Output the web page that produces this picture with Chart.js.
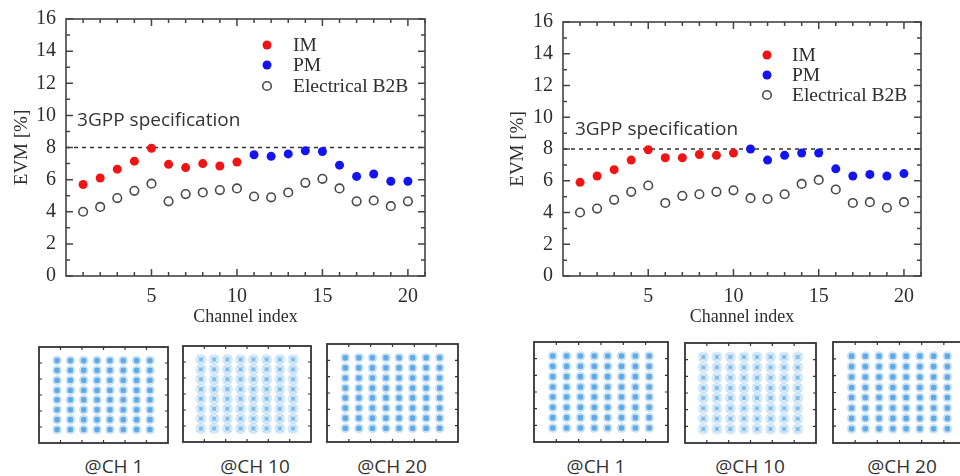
<!DOCTYPE html>
<html>
<head>
<meta charset="utf-8">
<title>EVM vs channel index</title>
<script src="https://cdn.jsdelivr.net/npm/chart.js@4.4.1/dist/chart.umd.min.js"></script>
<style>
  html, body { margin: 0; padding: 0; background: #fff; }
  body { width: 960px; height: 476px; position: relative; overflow: hidden; }
  canvas { position: absolute; }
  .ch-label {
    position: absolute;
    top: 453px;
    width: 120px;
    margin-left: -60px;
    text-align: center;
    font-family: "Open Sans", sans-serif;
    font-size: 19px;
    color: #333;
  }
</style>
</head>
<body>
<canvas id="evm-left" width="440" height="330" style="left:0;top:0"></canvas>
<canvas id="evm-right" width="470" height="330" style="left:490px;top:0"></canvas>

<canvas id="con-l1" width="139" height="106" style="left:34px;top:342px"></canvas>
<canvas id="con-l2" width="140" height="108" style="left:177px;top:340px"></canvas>
<canvas id="con-l3" width="141" height="108" style="left:322px;top:339px"></canvas>
<canvas id="con-r1" width="144" height="110" style="left:529px;top:337px"></canvas>
<canvas id="con-r2" width="143" height="112" style="left:679px;top:337px"></canvas>
<canvas id="con-r3" width="143" height="111" style="left:828px;top:337px"></canvas>

<div class="ch-label" style="left:114px">@CH 1</div>
<div class="ch-label" style="left:255px">@CH 10</div>
<div class="ch-label" style="left:392px">@CH 20</div>
<div class="ch-label" style="left:596px">@CH 1</div>
<div class="ch-label" style="left:750px">@CH 10</div>
<div class="ch-label" style="left:902px">@CH 20</div>

<script>
// channel indices
const imChannels = [1, 2, 3, 4, 5, 6, 7, 8, 9, 10];
const pmChannels = [11, 12, 13, 14, 15, 16, 17, 18, 19, 20];
const allChannels = imChannels.concat(pmChannels);

// left panel EVM [%]
const leftIM = [5.7, 6.1, 6.65, 7.15, 7.95, 6.95, 6.75, 7.0, 6.85, 7.1];
const leftPM = [7.55, 7.45, 7.6, 7.8, 7.75, 6.9, 6.2, 6.35, 5.9, 5.9];
const leftB2B = [4.0, 4.3, 4.85, 5.3, 5.75, 4.65, 5.1, 5.2, 5.35, 5.45,
                 4.95, 4.9, 5.2, 5.8, 6.05, 5.45, 4.65, 4.7, 4.35, 4.65];

// right panel EVM [%]
const rightIM = [5.9, 6.3, 6.7, 7.3, 7.95, 7.45, 7.45, 7.65, 7.6, 7.75];
const rightPM = [8.0, 7.3, 7.6, 7.75, 7.75, 6.75, 6.3, 6.4, 6.3, 6.45];
const rightB2B = [4.0, 4.25, 4.8, 5.3, 5.7, 4.6, 5.05, 5.15, 5.3, 5.4,
                  4.9, 4.85, 5.15, 5.8, 6.05, 5.45, 4.6, 4.65, 4.3, 4.65];

const specLimit = 8;
const xRange = [0, 21];
const yRange = [0, 16];
const xTickLabels = [5, 10, 15, 20];
const yTickLabels = [0, 2, 4, 6, 8, 10, 12, 14, 16];
const xMinorTicks = [1, 2, 3, 4, 6, 7, 8, 9, 11, 12, 13, 14, 16, 17, 18, 19, 21];
const yMinorTicks = [1, 3, 5, 7, 9, 11, 13, 15];

// 64-QAM levels (normalised) and constellation axis ticks
const qamLevels = [-1.08, -0.77, -0.46, -0.15, 0.15, 0.46, 0.77, 1.08];
const conRange = [-1.5, 1.5];
const conTicks = [-1, -0.5, 0, 0.5, 1];

const serif = "'Liberation Serif', 'DejaVu Serif', serif";
const inkColor = "#2e2e2e";

function toPoints(xs, ys) {
  return xs.map((x, i) => ({ x: x, y: ys[i] }));
}

// frame round the chart area with inward ticks on all four sides
// (tick lists are closed over so the options resolver never touches them)
function framePlugin(cfg) {
  return {
    id: "frame",
    afterDatasetsDraw(chart) {
      const { ctx, chartArea: a, scales } = chart;
      const xs = scales.x, ys = scales.y;
      ctx.save();
      ctx.strokeStyle = cfg.color;
      ctx.lineWidth = cfg.lineWidth;
      ctx.strokeRect(a.left, a.top, a.right - a.left, a.bottom - a.top);
      ctx.lineWidth = cfg.tickWidth;
      const drawX = (vals, len) => {
        vals.forEach((v) => {
          const px = xs.getPixelForValue(v);
          ctx.beginPath();
          ctx.moveTo(px, a.bottom); ctx.lineTo(px, a.bottom - len);
          ctx.moveTo(px, a.top); ctx.lineTo(px, a.top + len);
          ctx.stroke();
        });
      };
      const drawY = (vals, len) => {
        vals.forEach((v) => {
          const py = ys.getPixelForValue(v);
          ctx.beginPath();
          ctx.moveTo(a.left, py); ctx.lineTo(a.left + len, py);
          ctx.moveTo(a.right, py); ctx.lineTo(a.right - len, py);
          ctx.stroke();
        });
      };
      drawX(cfg.xMajor, cfg.majorLen);
      drawX(cfg.xMinor, cfg.minorLen);
      drawY(cfg.yMajor, cfg.majorLen);
      drawY(cfg.yMinor, cfg.minorLen);
      ctx.restore();
    },
  };
}

// legend and "3GPP specification" note drawn inside the plot
function insideLegendPlugin(cfg) {
  return {
    id: "insideLegend",
    afterDatasetsDraw(chart) {
      const { ctx, chartArea: a, scales } = chart;
      ctx.save();
      cfg.rows.forEach((row, i) => {
        const ds = chart.data.datasets[i];
        const cx = a.left + cfg.markerX;
        const cy = a.top + row;
        ctx.beginPath();
        ctx.arc(cx, cy, ds.pointRadius, 0, Math.PI * 2);
        ctx.fillStyle = ds.backgroundColor;
        ctx.fill();
        if (ds.pointBorderWidth) {
          ctx.lineWidth = ds.pointBorderWidth;
          ctx.strokeStyle = ds.borderColor;
          ctx.stroke();
        }
        ctx.fillStyle = inkColor;
        ctx.font = "19.5px " + serif;
        ctx.textBaseline = "middle";
        ctx.fillText(ds.label, a.left + cfg.textX, cy + 1);
      });
      ctx.font = "19px 'Open Sans', sans-serif";
      ctx.fillStyle = "#333";
      ctx.textBaseline = "middle";
      ctx.fillText("3GPP specification",
        scales.x.getPixelForValue(cfg.noteAt[0]),
        scales.y.getPixelForValue(cfg.noteAt[1]));
      ctx.restore();
    },
  };
}

function makeEvmChart(canvasId, im, pm, b2b, layout) {
  const ctx = document.getElementById(canvasId);
  return new Chart(ctx, {
    type: "scatter",
    data: {
      datasets: [
        {
          label: "IM",
          data: toPoints(imChannels, im),
          backgroundColor: "#f01414",
          borderColor: "#f01414",
          pointRadius: 4.5,
          pointBorderWidth: 0,
        },
        {
          label: "PM",
          data: toPoints(pmChannels, pm),
          backgroundColor: "#1414f0",
          borderColor: "#1414f0",
          pointRadius: 4.5,
          pointBorderWidth: 0,
        },
        {
          label: "Electrical B2B",
          data: toPoints(allChannels, b2b),
          backgroundColor: "#ffffff",
          borderColor: "#4a4a4a",
          pointRadius: 4.3,
          pointBorderWidth: 1.6,
        },
        {
          type: "line",
          label: "3GPP",
          data: [{ x: xRange[0], y: specLimit }, { x: xRange[1], y: specLimit }],
          borderColor: "#333",
          borderWidth: 1.5,
          borderDash: [4, 4],
          pointRadius: 0,
        },
      ],
    },
    options: {
      responsive: false,
      animation: false,
      layout: {
        padding: { top: layout.top, right: layout.right, left: 0, bottom: 0 },
      },
      plugins: {
        legend: { display: false },
        tooltip: { enabled: false },
      },
      scales: {
        x: {
          type: "linear",
          min: xRange[0],
          max: xRange[1],
          grid: { display: false },
          border: { display: false },
          afterFit: (scale) => { scale.height = 54; },
          afterBuildTicks: (scale) => {
            scale.ticks = xTickLabels.map((v) => ({ value: v }));
          },
          ticks: {
            autoSkip: false,
            maxRotation: 0,
            padding: 1,
            color: inkColor,
            font: { family: serif, size: 20 },
          },
          title: {
            display: true,
            text: "Channel index",
            color: inkColor,
            padding: { top: 0, bottom: 2 },
            font: { family: serif, size: 18 },
          },
        },
        y: {
          type: "linear",
          min: yRange[0],
          max: yRange[1],
          grid: { display: false },
          border: { display: false },
          afterFit: (scale) => { scale.width = layout.yWidth; },
          afterBuildTicks: (scale) => {
            scale.ticks = yTickLabels.map((v) => ({ value: v }));
          },
          ticks: {
            padding: 2,
            color: inkColor,
            font: { family: serif, size: 20 },
          },
          title: {
            display: true,
            text: "EVM [%]",
            color: inkColor,
            padding: { top: layout.yTitlePad, bottom: 0 },
            font: { family: serif, size: 19 },
          },
        },
      },
    },
    plugins: [
      framePlugin({
        xMajor: xTickLabels,
        xMinor: xMinorTicks,
        yMajor: yTickLabels,
        yMinor: yMinorTicks,
        majorLen: 7,
        minorLen: 4,
        color: "#444",
        lineWidth: 1.6,
        tickWidth: 1.5,
      }),
      insideLegendPlugin(layout),
    ],
  });
}

function makeConstellation(canvasId, fuzzy) {
  const grid = [];
  qamLevels.forEach((q) => {
    qamLevels.forEach((i) => grid.push({ x: i, y: q }));
  });
  new Chart(document.getElementById(canvasId), {
    type: "scatter",
    data: {
      datasets: [
        {
          data: grid,
          pointStyle: "circle",
          pointRadius: fuzzy ? 5.5 : 4.8,
          backgroundColor: fuzzy ? "rgba(140,195,238,0.35)" : "rgba(120,185,235,0.40)",
          borderWidth: 0,
        },
        {
          data: grid,
          pointStyle: "crossRot",
          pointRadius: fuzzy ? 5 : 4,
          backgroundColor: "rgba(0,0,0,0)",
          borderColor: fuzzy ? "rgba(80,160,228,0.40)" : "rgba(60,150,225,0.45)",
          borderWidth: 1,
        },
        {
          data: grid,
          pointStyle: "circle",
          pointRadius: fuzzy ? 2.2 : 2.8,
          backgroundColor: fuzzy ? "rgba(45,145,222,0.55)" : "rgba(30,130,218,0.75)",
          borderWidth: 0,
        },
      ],
    },
    options: {
      responsive: false,
      animation: false,
      layout: { padding: 1 },
      plugins: {
        legend: { display: false },
        tooltip: { enabled: false },
      },
      scales: {
        x: { display: false, min: conRange[0], max: conRange[1] },
        y: { display: false, min: conRange[0], max: conRange[1] },
      },
    },
    plugins: [
      framePlugin({
        xMajor: conTicks,
        xMinor: [],
        yMajor: conTicks,
        yMinor: [],
        majorLen: 3,
        minorLen: 0,
        color: "#333",
        lineWidth: 1.8,
        tickWidth: 1.2,
      }),
    ],
  });
}

makeEvmChart("evm-left", leftIM, leftPM, leftB2B, {
  top: 19, right: 15, yWidth: 66, yTitlePad: 11,
  markerX: 201, textX: 227, rows: [26, 46, 67], noteAt: [0.65, 9.65],
});
makeEvmChart("evm-right", rightIM, rightPM, rightB2B, {
  top: 22, right: 39, yWidth: 73, yTitlePad: 17,
  markerX: 204, textX: 229, rows: [33, 53, 73], noteAt: [0.7, 9.25],
});

makeConstellation("con-l1", false);
makeConstellation("con-l2", true);
makeConstellation("con-l3", false);
makeConstellation("con-r1", false);
makeConstellation("con-r2", true);
makeConstellation("con-r3", false);
</script>
</body>
</html>
